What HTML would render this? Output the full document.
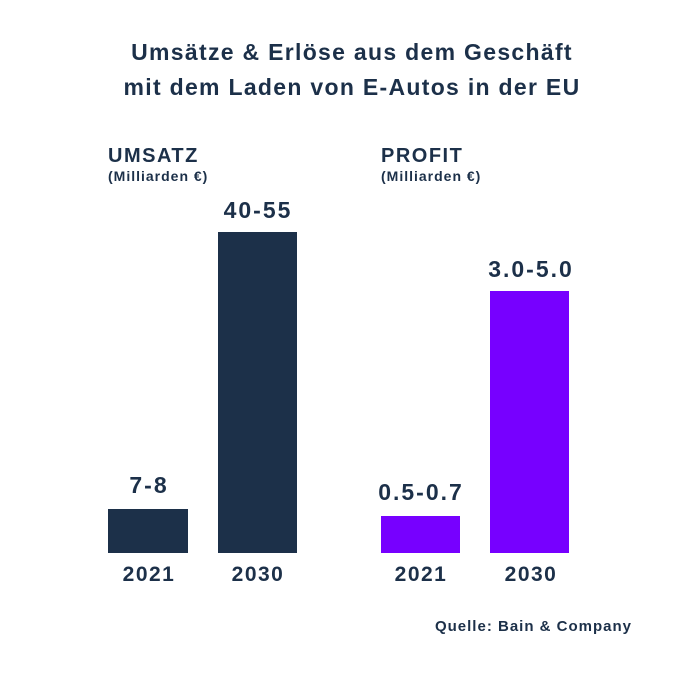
<!DOCTYPE html>
<html><head><meta charset="utf-8"><style>
body{margin:0;background:#fff;}
.c{position:relative;width:678px;height:678px;font-family:"Liberation Sans",sans-serif;color:#1c3049;font-weight:bold;}
.t{position:absolute;white-space:nowrap;}
.b{position:absolute;}
.n{background:#1c3049}.p{background:#7700ff}
.v{font-size:23px;transform:translateX(-50%);letter-spacing:2px}
.y{font-size:21px;transform:translateX(-50%);top:563px;letter-spacing:1.5px}
</style></head><body><div class="c">
<div class="t" style="left:0;width:704px;text-align:center;top:35px;font-size:23px;line-height:35px;letter-spacing:1.3px">Umsätze &amp; Erlöse aus dem Geschäft<br>mit dem Laden von E-Autos in der EU</div>
<div class="t" style="left:108px;top:145px;font-size:20px;letter-spacing:1.5px">UMSATZ</div>
<div class="t" style="left:108px;top:168px;font-size:14px;letter-spacing:1px">(Milliarden €)</div>
<div class="t" style="left:381px;top:145px;font-size:20px;letter-spacing:1.5px">PROFIT</div>
<div class="t" style="left:381px;top:168px;font-size:14px;letter-spacing:1px">(Milliarden €)</div>
<div class="b n" style="left:108px;top:509px;width:80px;height:44px"></div>
<div class="b n" style="left:218px;top:232px;width:79px;height:321px"></div>
<div class="b p" style="left:381px;top:516px;width:79px;height:37px"></div>
<div class="b p" style="left:490px;top:291px;width:79px;height:262px"></div>
<div class="t v" style="left:149px;top:472px">7-8</div>
<div class="t v" style="left:258px;top:197px">40-55</div>
<div class="t v" style="left:421px;top:479px">0.5-0.7</div>
<div class="t v" style="left:531px;top:256px">3.0-5.0</div>
<div class="t y" style="left:149px">2021</div>
<div class="t y" style="left:258px">2030</div>
<div class="t y" style="left:421px">2021</div>
<div class="t y" style="left:531px">2030</div>
<div class="t" style="right:46px;top:618px;font-size:15px;letter-spacing:1px">Quelle: Bain &amp; Company</div>
</div></body></html>
